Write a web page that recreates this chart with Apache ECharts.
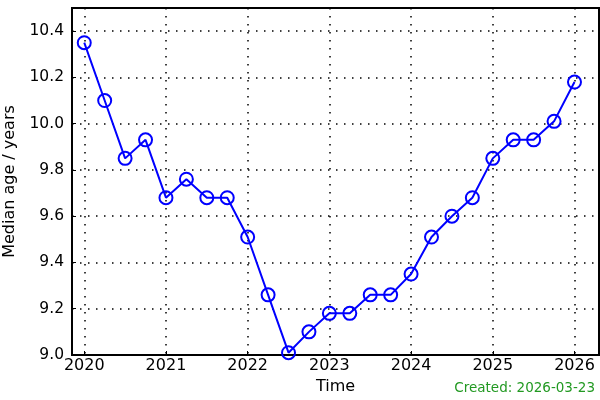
<!DOCTYPE html>
<html>
<head>
<meta charset="utf-8">
<script src="https://cdn.jsdelivr.net/npm/echarts@6/dist/echarts.min.js"></script>
<style>html,body{margin:0;padding:0;background:#fff;}#c{width:600px;height:400px;}</style>
</head>
<body>
<div id="c"></div>
<script>
var times = [2020.0, 2020.25, 2020.5, 2020.75, 2021.0, 2021.25, 2021.5, 2021.75, 2022.0, 2022.25, 2022.5, 2022.75, 2023.0, 2023.25, 2023.5, 2023.75, 2024.0, 2024.25, 2024.5, 2024.75, 2025.0, 2025.25, 2025.5, 2025.75, 2026.0];
var medianAge = [10.35, 10.10, 9.85, 9.93, 9.68, 9.76, 9.68, 9.68, 9.51, 9.26, 9.01, 9.10, 9.18, 9.18, 9.26, 9.26, 9.35, 9.51, 9.60, 9.68, 9.85, 9.93, 9.93, 10.01, 10.18];
var xTicks = [2020, 2021, 2022, 2023, 2024, 2025, 2026];
var yTicks = [9.0, 9.2, 9.4, 9.6, 9.8, 10.0, 10.2, 10.4];

var chart = echarts.init(document.getElementById('c'), null, {renderer: 'canvas'});
var font = 'DejaVu Sans';
var gridLine = {show: true, lineStyle: {color: '#000', width: 1.5, type: [1.5, 6.5]}};
chart.setOption({
  animation: false,
  title: {
    text: 'Created: 2026-03-23', right: 0, bottom: 0,
    textStyle: {color: '#229922', fontSize: 13.5, fontWeight: 'normal', fontFamily: font}
  },
  grid: {left: 72, right: 1, top: 8, bottom: 45, show: true, borderColor: '#000', borderWidth: 2, containLabel: false, outerBoundsMode: 'none'},
  xAxis: {
    type: 'value', min: 2019.85, max: 2026.3,
    name: 'Time', nameLocation: 'middle', nameGap: 22,
    nameTextStyle: {color: '#000', fontSize: 16, fontFamily: font},
    axisLine: {show: true, lineStyle: {color: '#000', width: 2}},
    axisTick: {show: true, inside: true, length: 4, customValues: xTicks, lineStyle: {color: '#000', width: 1}},
    axisLabel: {customValues: xTicks, color: '#000', fontSize: 16, fontFamily: font, margin: 3, formatter: function(v){return String(Math.round(v));}},
    splitLine: gridLine
  },
  yAxis: {
    type: 'value', min: 9.0, max: 10.5,
    name: 'Median age / years', nameLocation: 'middle', nameGap: 54,
    nameTextStyle: {color: '#000', fontSize: 16, fontFamily: font},
    axisLine: {show: true, lineStyle: {color: '#000', width: 2}},
    axisTick: {show: true, inside: true, length: 4, customValues: yTicks, lineStyle: {color: '#000', width: 1}},
    axisLabel: {customValues: yTicks, color: '#000', fontSize: 15.5, fontFamily: font, margin: 8, formatter: function(v){return v.toFixed(1);}},
    splitLine: gridLine
  },
  series: [{
    type: 'line',
    data: times.map(function(t, i){ return [t, medianAge[i]]; }),
    symbol: 'circle', symbolSize: 13,
    lineStyle: {color: '#0000ff', width: 2},
    itemStyle: {color: 'rgba(0,0,0,0)', borderColor: '#0000ff', borderWidth: 2},
    clip: true
  }]
});
</script>
</body>
</html>
